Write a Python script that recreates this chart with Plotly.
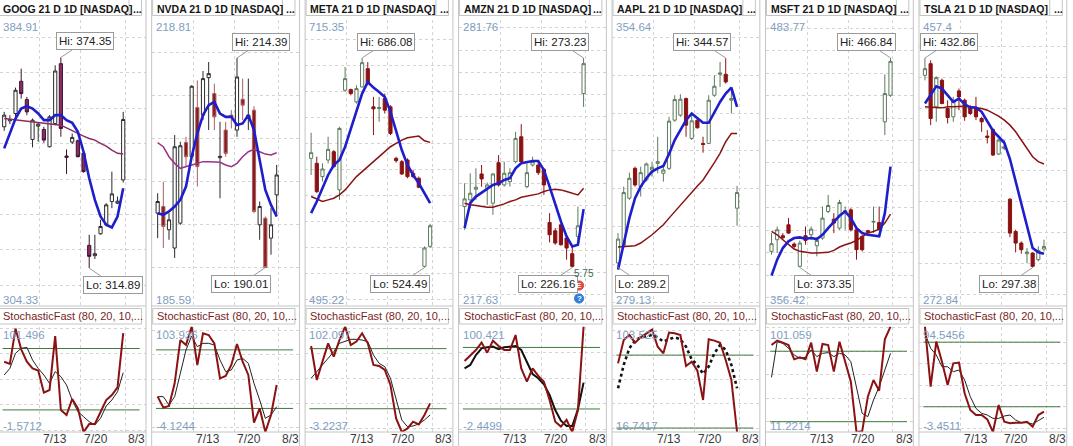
import plotly.graph_objects as go

# ---- data ----
TICKERS = ["GOOG", "NVDA", "META", "AMZN", "AAPL", "MSFT", "TSLA"]
DAYS = list(range(22))
DATE_TICKS = [6.3, 13.5, 21.4]
DATE_LABELS = ["7/13", "7/20", "8/3"]
STOCH_LEVELS = [80, 20]

GOOG_O = [354.77, 356.45, 358.52, 367.61, 362.45, 351.20, 354.95, 354.02, 349.14, 355.70, 372.58, 346.52, 350.45, 350.83, 347.27, 321.30, 318.39, 324.58, 327.11, 333.67, 333.20, 339.77]
GOOG_H = [358.98, 358.05, 365.83, 371.17, 363.20, 357.11, 355.89, 354.77, 358.05, 372.11, 374.35, 348.39, 352.89, 351.20, 347.73, 324.30, 324.30, 328.52, 333.20, 342.11, 335.08, 358.98]
GOOG_L = [353.64, 355.52, 356.64, 362.73, 358.05, 348.95, 350.55, 350.27, 348.95, 355.23, 351.95, 341.45, 349.89, 346.14, 341.83, 314.89, 317.45, 324.30, 326.64, 331.80, 333.02, 339.02]
GOOG_C = [358.05, 356.83, 365.08, 364.14, 358.98, 356.64, 355.52, 351.02, 357.58, 370.52, 354.30, 346.14, 351.77, 346.33, 342.11, 318.20, 318.95, 326.64, 332.73, 335.83, 333.77, 356.83]
GOOG_FAST = [348.67, 352.89, 357.11, 359.92, 360.58, 359.92, 358.52, 356.64, 356.64, 358.05, 358.05, 356.64, 355.89, 353.36, 347.73, 340.23, 334.14, 329.45, 327.11, 326.36, 329.45, 337.42]
GOOG_SLOW = [357.11, 356.92, 356.64, 356.45, 356.36, 356.17, 356.08, 355.89, 355.70, 355.52, 355.23, 354.48, 353.64, 352.89, 352.14, 351.48, 351.02, 350.08, 349.33, 348.20, 347.27, 347.08]
GOOG_K = [67.1, 64.9, 99.5, 79.2, 67.1, 60.6, 58.4, 36.9, 39.5, 92.2, 19.9, 15.0, 30.7, 21.6, -1.57, 6.2, 6.2, 18.3, 29.7, 34.6, 42.1, 95.0]
GOOG_D = [54.1, 60.6, 75.3, 80.2, 81.1, 68.8, 60.6, 54.1, 46.0, 57.4, 52.5, 44.3, 29.7, 18.3, 13.4, 8.5, 5.3, 11.8, 23.8, 29.7, 37.8, 56.4]

NVDA_O = [196.33, 197.11, 194.40, 192.28, 195.17, 204.57, 202.90, 208.62, 207.74, 212.10, 210.25, 202.79, 206.00, 207.74, 206.00, 209.59, 207.35, 208.32, 194.98, 195.75, 193.43, 198.46]
NVDA_H = [198.65, 200.00, 196.33, 205.42, 204.64, 205.22, 211.21, 211.79, 212.88, 213.92, 211.41, 206.96, 206.96, 208.32, 214.39, 211.99, 211.99, 208.78, 197.69, 195.95, 196.91, 201.94]
NVDA_L = [193.43, 192.28, 193.24, 191.12, 194.98, 201.75, 202.71, 199.43, 207.16, 206.00, 206.00, 198.07, 202.90, 206.19, 205.22, 207.16, 206.00, 196.33, 193.24, 190.01, 191.50, 195.95]
NVDA_C = [197.69, 194.79, 195.56, 204.06, 204.18, 202.90, 211.10, 201.75, 211.99, 212.57, 207.54, 202.94, 203.29, 207.47, 212.18, 208.90, 207.74, 196.53, 197.11, 190.01, 194.98, 200.78]
NVDA_FAST = [196.33, 196.14, 196.53, 197.11, 197.88, 199.43, 202.90, 205.61, 207.74, 208.90, 209.28, 207.93, 207.54, 207.54, 206.58, 206.77, 207.74, 206.00, 202.52, 199.04, 197.30, 195.95]
NVDA_SLOW = [204.53, 204.06, 202.90, 202.13, 201.55, 201.75, 201.94, 202.13, 202.33, 202.33, 202.33, 202.25, 201.94, 201.75, 202.13, 202.90, 203.48, 203.75, 203.48, 203.21, 203.10, 203.37]
NVDA_K = [32.1, 20.8, 22.5, 45.7, 90.1, 85.0, 103.9, 64.5, 96.9, 95.2, 86.7, 50.8, 53.2, 64.5, 86.0, 67.9, 54.3, 5.4, 20.1, -4.12, 13.3, 44.0]
NVDA_D = [32.1, 32.1, 23.5, 32.1, 56.0, 79.9, 94.2, 83.3, 86.7, 86.7, 85.0, 69.6, 57.7, 59.4, 69.6, 71.3, 66.2, 45.7, 28.7, 9.9, 13.3, 21.8]

META_O = [608.68, 604.84, 594.59, 607.40, 613.80, 584.35, 661.18, 661.69, 652.21, 663.74, 677.83, 648.37, 647.10, 654.78, 648.37, 608.68, 606.12, 607.40, 597.15, 593.31, 525.44, 540.81]
META_H = [628.40, 609.96, 604.84, 625.33, 615.08, 633.01, 679.11, 662.46, 665.02, 686.08, 682.95, 656.06, 656.06, 658.62, 649.65, 609.96, 607.40, 608.68, 599.71, 594.59, 540.81, 558.22]
META_L = [595.87, 581.79, 590.75, 604.84, 601.00, 576.66, 659.91, 657.34, 650.94, 663.23, 665.02, 626.61, 636.85, 643.25, 626.61, 605.35, 595.87, 593.31, 593.31, 585.63, 524.49, 539.53]
META_C = [613.03, 583.06, 600.48, 615.59, 602.27, 631.73, 670.15, 658.62, 662.46, 682.44, 666.30, 646.84, 647.86, 645.81, 627.89, 606.88, 596.64, 594.59, 594.59, 586.40, 539.53, 556.69]
META_FAST = [566.42, 575.37, 585.62, 595.87, 603.55, 607.40, 617.64, 631.73, 645.81, 658.62, 667.58, 663.23, 659.91, 656.06, 644.53, 629.17, 615.08, 603.55, 595.87, 589.47, 581.79, 574.11]
META_SLOW = [579.22, 577.17, 575.38, 576.66, 577.94, 580.51, 584.35, 589.47, 594.59, 598.43, 602.27, 606.12, 609.96, 613.80, 617.64, 620.21, 622.77, 624.55, 625.33, 625.84, 622.26, 620.98]
META_K = [82.6, 48.7, 67.0, 85.3, 72.0, 88.6, 102.0, 83.6, 87.0, 95.3, 85.3, 63.7, 62.7, 58.7, 43.7, 10.4, -3.2, 0.4, 7.1, 4.4, 13.8, 25.4]
META_D = [50.4, 57.0, 63.7, 70.3, 77.0, 85.3, 87.0, 89.3, 89.3, 88.6, 87.0, 73.6, 65.3, 62.0, 50.4, 28.7, 8.8, 2.1, 2.8, 4.8, 8.8, 13.8]

AMZN_O = [239.86, 241.36, 243.74, 247.18, 243.97, 240.61, 249.71, 244.71, 245.46, 249.94, 255.53, 244.34, 249.19, 249.19, 248.22, 236.28, 234.42, 235.76, 232.77, 229.27, 233.15, 265.23]
AMZN_H = [245.09, 247.33, 248.45, 249.19, 245.24, 247.33, 251.43, 249.94, 248.45, 256.65, 258.37, 249.57, 251.06, 249.94, 248.45, 238.37, 235.01, 235.99, 233.15, 230.91, 239.86, 273.23]
AMZN_L = [234.64, 239.49, 241.36, 244.34, 240.24, 238.00, 244.34, 244.34, 244.34, 249.57, 249.57, 243.97, 248.82, 246.95, 242.48, 231.81, 231.28, 231.06, 227.93, 226.16, 231.06, 262.25]
AMZN_C = [241.58, 242.85, 244.19, 246.06, 244.71, 247.18, 244.71, 247.33, 247.47, 255.16, 249.94, 247.47, 249.94, 247.47, 244.71, 233.52, 231.66, 231.28, 230.54, 226.43, 235.54, 271.95]
AMZN_FAST = [235.02, 240.61, 242.10, 243.00, 243.97, 244.71, 245.09, 245.83, 246.21, 248.45, 249.57, 249.79, 250.09, 250.09, 248.07, 244.34, 240.24, 236.51, 233.15, 230.91, 231.28, 239.27]
AMZN_SLOW = [240.61, 240.24, 240.09, 239.86, 239.72, 239.72, 240.01, 240.46, 240.98, 241.36, 241.95, 242.25, 242.48, 242.70, 243.22, 243.60, 243.74, 243.60, 243.22, 242.85, 242.48, 243.97]
AMZN_K = [66.8, 71.7, 77.5, 84.7, 74.9, 86.6, 81.4, 77.5, 77.5, 92.1, 59.6, 46.6, 59.6, 52.2, 46.6, 28.8, 7.6, 2.8, 9.3, -2.45, 19.0, 100.42]
AMZN_D = [59.6, 62.9, 72.6, 79.1, 80.1, 80.8, 78.2, 80.1, 80.8, 81.4, 77.5, 66.1, 54.1, 49.9, 44.0, 33.6, 19.0, 8.6, 3.4, 3.4, 19.7, 45.7]

AAPL_O = [290.37, 294.77, 307.51, 315.41, 310.58, 312.35, 314.97, 316.73, 314.10, 315.41, 328.15, 329.47, 333.86, 323.32, 328.15, 322.00, 322.00, 334.74, 340.28, 340.28, 333.42, 304.87]
AAPL_H = [298.28, 310.58, 314.27, 315.85, 315.85, 316.91, 317.17, 323.76, 316.29, 329.03, 334.74, 335.01, 334.13, 329.91, 328.59, 323.76, 334.74, 340.01, 343.53, 344.57, 336.76, 310.76]
AAPL_L = [289.20, 294.33, 307.07, 310.58, 307.95, 311.90, 313.22, 314.10, 311.90, 314.97, 327.71, 329.03, 323.76, 322.88, 325.96, 319.54, 321.83, 334.30, 336.94, 337.82, 329.91, 300.22]
AAPL_C = [296.70, 309.00, 312.78, 311.02, 314.27, 316.56, 315.68, 317.17, 314.97, 327.89, 333.60, 333.69, 326.83, 327.98, 326.13, 321.74, 333.42, 337.11, 340.63, 338.26, 333.86, 309.00]
AAPL_FAST = [288.62, 295.21, 302.24, 307.51, 310.58, 312.78, 314.54, 315.41, 316.03, 319.19, 322.88, 325.52, 328.15, 329.91, 328.59, 327.45, 327.45, 330.35, 332.98, 335.18, 336.76, 331.67]
AAPL_SLOW = [294.59, 294.77, 294.77, 294.94, 295.65, 296.70, 297.84, 299.16, 300.48, 302.24, 304.00, 305.75, 307.51, 309.26, 310.76, 312.34, 314.54, 316.91, 319.37, 322.44, 324.64, 324.64]
AAPL_K = [73.2, 92.4, 96.5, 90.2, 94.6, 97.9, 101.0, 86.9, 81.5, 98.5, 97.9, 96.5, 71.0, 74.6, 67.2, 43.1, 93.0, 91.9, 90.2, 76.0, 59.5, 16.74]
AAPL_D = [52.7, 71.9, 85.6, 91.9, 94.6, 95.7, 96.5, 94.6, 91.1, 93.0, 94.6, 93.0, 86.9, 76.5, 71.9, 64.5, 70.5, 81.5, 88.3, 84.2, 71.9, 52.7]

MSFT_O = [380.57, 385.76, 387.54, 392.43, 383.83, 373.90, 387.54, 387.98, 383.09, 386.50, 398.35, 394.94, 390.94, 398.06, 399.09, 390.20, 387.24, 389.76, 393.61, 393.46, 438.36, 450.21]
MSFT_H = [388.72, 391.68, 388.72, 395.39, 384.57, 385.46, 391.68, 391.68, 386.94, 400.57, 405.76, 397.61, 403.54, 400.57, 399.83, 390.94, 387.98, 390.20, 400.57, 400.57, 459.55, 466.84]
MSFT_L = [379.09, 379.83, 385.76, 388.43, 382.05, 373.35, 383.54, 385.76, 378.35, 385.76, 397.61, 388.72, 390.20, 390.20, 389.46, 376.87, 380.57, 388.43, 388.72, 389.91, 432.43, 449.47]
MSFT_C = [383.98, 390.20, 386.65, 388.72, 382.79, 384.28, 385.46, 390.50, 385.46, 395.39, 401.02, 393.17, 402.35, 398.65, 390.20, 381.31, 381.31, 389.02, 393.91, 390.20, 450.95, 465.33]
MSFT_FAST = [369.76, 376.87, 382.05, 385.02, 386.50, 386.79, 386.20, 386.50, 386.05, 387.98, 390.94, 393.91, 396.42, 398.35, 395.39, 390.94, 388.72, 387.98, 387.54, 387.24, 397.61, 418.35]
MSFT_SLOW = [389.46, 387.98, 385.76, 383.54, 381.61, 380.57, 380.13, 379.83, 379.83, 379.83, 380.13, 381.02, 382.50, 383.54, 384.28, 385.46, 386.94, 388.72, 389.46, 390.50, 393.17, 397.17]
MSFT_K = [85.3, 89.0, 87.3, 85.3, 73.1, 74.8, 73.1, 87.3, 62.6, 86.2, 85.3, 62.6, 88.1, 71.1, 54.1, 11.22, 11.8, 41.3, 55.5, 46.4, 90.1, 101.0]
MSFT_D = [57.8, 88.1, 86.7, 82.5, 76.8, 74.0, 74.8, 81.1, 75.4, 78.2, 78.8, 75.4, 78.2, 76.8, 71.1, 48.4, 27.1, 24.3, 38.5, 49.8, 64.0, 78.2]

TSLA_O = [421.65, 429.16, 401.25, 418.42, 400.17, 394.80, 411.55, 405.54, 400.82, 400.82, 393.73, 382.35, 386.64, 370.75, 374.41, 341.55, 320.72, 313.21, 306.32, 306.76, 302.47, 309.35]
TSLA_H = [432.86, 431.31, 421.00, 419.50, 405.54, 407.69, 413.06, 406.61, 402.32, 407.69, 394.80, 386.22, 387.29, 380.20, 379.77, 342.20, 321.80, 314.28, 309.98, 307.19, 311.06, 315.35]
TSLA_L = [418.42, 389.43, 391.59, 402.96, 390.51, 391.59, 399.10, 392.23, 395.89, 392.66, 385.14, 377.63, 369.47, 370.11, 373.33, 317.07, 307.19, 306.32, 300.32, 297.38, 301.40, 307.83]
TSLA_C = [425.94, 393.73, 420.14, 403.39, 394.37, 405.11, 407.69, 394.80, 396.95, 394.80, 391.58, 381.49, 370.11, 379.77, 375.48, 319.65, 313.21, 308.91, 307.40, 298.18, 308.48, 311.06]
TSLA_FAST = [403.39, 408.76, 414.56, 413.06, 408.76, 404.47, 406.61, 402.96, 400.82, 400.82, 398.03, 391.59, 385.79, 381.92, 378.06, 367.53, 353.36, 338.97, 324.80, 310.00, 307.19, 306.32]
TSLA_SLOW = [401.25, 400.82, 400.82, 400.60, 401.25, 401.25, 401.68, 401.68, 401.25, 400.82, 400.17, 399.10, 397.38, 395.23, 392.66, 389.43, 385.14, 379.77, 374.41, 369.04, 365.82, 364.31]
TSLA_K = [94.5, 38.7, 80.5, 61.9, 40.2, 60.3, 61.0, 32.5, 17.0, 12.3, 12.3, 8.3, -3.45, 21.6, 6.1, 4.6, 5.2, 5.2, 6.1, 1.5, 12.3, 15.4]
TSLA_D = [88.2, 74.3, 68.1, 57.2, 57.2, 52.6, 54.1, 44.9, 29.4, 18.5, 13.9, 12.3, 9.2, 9.2, 11.4, 12.3, 7.7, 5.2, 5.2, 4.0, 7.1, 10.2]

# axis ranges shown in the corners of each pane
PRICE_TOP = [384.91, 218.81, 715.35, 281.76, 354.64, 483.77, 457.4]
PRICE_BOT = [304.33, 185.59, 495.22, 217.63, 279.13, 356.42, 272.84]
PRICE_STEP = [10, 5, 20, 5, 10, 10, 20]
STOCH_TOP = [101.496, 103.936, 102.097, 100.421, 103.525, 101.059, 94.5456]
STOCH_BOT = [-1.5712, -4.1244, -3.2237, -2.4499, 16.7417, 11.2214, -3.4511]
STOCH_STEP = [25, 25, 25, 25, 20, 20, 20]

SERIES = {
    "GOOG": (GOOG_O, GOOG_H, GOOG_L, GOOG_C, GOOG_FAST, GOOG_SLOW, GOOG_K, GOOG_D),
    "NVDA": (NVDA_O, NVDA_H, NVDA_L, NVDA_C, NVDA_FAST, NVDA_SLOW, NVDA_K, NVDA_D),
    "META": (META_O, META_H, META_L, META_C, META_FAST, META_SLOW, META_K, META_D),
    "AMZN": (AMZN_O, AMZN_H, AMZN_L, AMZN_C, AMZN_FAST, AMZN_SLOW, AMZN_K, AMZN_D),
    "AAPL": (AAPL_O, AAPL_H, AAPL_L, AAPL_C, AAPL_FAST, AAPL_SLOW, AAPL_K, AAPL_D),
    "MSFT": (MSFT_O, MSFT_H, MSFT_L, MSFT_C, MSFT_FAST, MSFT_SLOW, MSFT_K, MSFT_D),
    "TSLA": (TSLA_O, TSLA_H, TSLA_L, TSLA_C, TSLA_FAST, TSLA_SLOW, TSLA_K, TSLA_D),
}

# ---- styling ----
FONT = "Liberation Sans, Arial, sans-serif"
BORDER = "#C4C4C4"
GRID = "#D4D4D4"
CORNER = "#7F9EC0"
BLUE = "#1E1ECC"
MAROON = "#8B1212"
GREEN = "#3E7A3E"
CANDLE_STYLE = {
    "GOOG": dict(up="#2A2A2A", dn_line="#3C1230", dn_fill="#8E2A66", slow="#8E2A66"),
    "NVDA": dict(up="#2A2A2A", dn_line="#A86060", dn_fill="#8B1A1A", slow="#9B3389"),
}
DEFAULT_STYLE = dict(up="#5C7A5C", dn_line=MAROON, dn_fill=MAROON, slow=MAROON)
D_STYLE = {"AAPL": dict(color="#111111", width=2.6, dash="dot"),
           "AMZN": dict(color="#111111", width=2.0)}
DEFAULT_D = dict(color="#222222", width=1)

W, H = 1073, 446
PANEL_X0, PANEL_STEP, PANEL_W = -1.8, 153.46, 147.8
BAR0, BAR_STEP = 6.0, 5.667
PRICE_Y = (20.0, 305.5)
STOCH_Y = (326.5, 432.0)


def px(x):
    return x / W


def py(y):
    return 1 - y / H


def ax_names(n):
    s = "" if n == 1 else str(n)
    return "x" + s, "y" + s, "xaxis" + s, "yaxis" + s


fig = go.Figure()
layout_axes = {}
shapes = []
annotations = []


def label(text, x, y, color, size=11, anchor="left", bold=False):
    annotations.append(dict(text=f"<b>{text}</b>" if bold else text, x=px(x), y=py(y),
                            xref="paper", yref="paper", xanchor=anchor, yanchor="middle",
                            showarrow=False, font=dict(family=FONT, size=size, color=color)))


for i, t in enumerate(TICKERS):
    o, h, l, c, fast, slow, k, d = SERIES[t]
    st = CANDLE_STYLE.get(t, DEFAULT_STYLE)
    left = PANEL_X0 + i * PANEL_STEP
    right = left + PANEL_W
    x0, x1 = max(left, 0), min(right, W)
    xr = [(x0 - left - BAR0) / BAR_STEP, (x1 - left - BAR0) / BAR_STEP]

    xp, yp, xpk, ypk = ax_names(2 * i + 1)
    xs, ys, xsk, ysk = ax_names(2 * i + 2)

    fig.add_trace(go.Candlestick(
        x=DAYS, open=o, high=h, low=l, close=c, xaxis=xp, yaxis=yp,
        increasing=dict(line=dict(color=st["up"], width=1), fillcolor="white"),
        decreasing=dict(line=dict(color=st["dn_line"], width=1), fillcolor=st["dn_fill"]),
        whiskerwidth=0, hoverinfo="skip"))
    fig.add_trace(go.Scatter(x=DAYS, y=slow, mode="lines", xaxis=xp, yaxis=yp,
                             line=dict(color=st["slow"], width=1.5)))
    fig.add_trace(go.Scatter(x=DAYS, y=fast, mode="lines", xaxis=xp, yaxis=yp,
                             line=dict(color=BLUE, width=2.6)))

    for lev in STOCH_LEVELS:
        fig.add_trace(go.Scatter(x=[-0.3, 23.9], y=[lev, lev], mode="lines", xaxis=xs, yaxis=ys,
                                 line=dict(color=GREEN, width=1)))
    fig.add_trace(go.Scatter(x=DAYS, y=d, mode="lines", xaxis=xs, yaxis=ys,
                             line=D_STYLE.get(t, DEFAULT_D)))
    fig.add_trace(go.Scatter(x=DAYS, y=k, mode="lines", xaxis=xs, yaxis=ys,
                             line=dict(color=MAROON, width=2)))

    common_x = dict(range=xr, domain=[px(x0), px(x1)], tickvals=DATE_TICKS, ticks="",
                    showticklabels=False, showgrid=True, gridcolor=GRID, griddash="dot",
                    zeroline=False, showline=False, fixedrange=True)
    layout_axes[xpk] = dict(common_x, anchor=yp, rangeslider=dict(visible=False))
    layout_axes[xsk] = dict(common_x, anchor=ys)
    layout_axes[ypk] = dict(range=[PRICE_BOT[i], PRICE_TOP[i]], anchor=xp,
                            domain=[py(PRICE_Y[1]), py(PRICE_Y[0])],
                            tick0=0, dtick=PRICE_STEP[i], showticklabels=False, ticks="",
                            showgrid=True, gridcolor=GRID, griddash="dot", zeroline=False,
                            fixedrange=True)
    layout_axes[ysk] = dict(range=[STOCH_BOT[i], STOCH_TOP[i]], anchor=xs,
                            domain=[py(STOCH_Y[1]), py(STOCH_Y[0])],
                            tick0=0, dtick=STOCH_STEP[i], showticklabels=False, ticks="",
                            showgrid=True, gridcolor=GRID, griddash="dot", zeroline=False,
                            fixedrange=True)

    # date labels sit just right of each weekly grid line
    for tv, tl in zip(DATE_TICKS, DATE_LABELS):
        annotations.append(dict(text=tl, x=tv, y=py(439), xref=xs, yref="paper",
                                xanchor="left", yanchor="middle", xshift=1, showarrow=False,
                                font=dict(family=FONT, size=12, color="#3A3A3A")))

    # pane frames
    line = dict(color=BORDER, width=1)
    shapes += [
        dict(type="rect", xref="paper", yref="paper", x0=px(left), x1=px(right),
             y0=py(-2), y1=py(450), line=line),
        dict(type="rect", xref="paper", yref="paper", x0=px(left + 1), x1=px(right - 4.5),
             y0=py(-1), y1=py(15.5), line=line),
        dict(type="line", xref="paper", yref="paper", x0=px(right - 17), x1=px(right - 17),
             y0=py(0), y1=py(15.5), line=line),
        dict(type="line", xref="paper", yref="paper", x0=px(left), x1=px(right),
             y0=py(306), y1=py(306), line=line),
        dict(type="rect", xref="paper", yref="paper", x0=px(left + 1), x1=px(right - 4.5),
             y0=py(308.5), y1=py(324), line=line),
        dict(type="line", xref="paper", yref="paper", x0=px(left), x1=px(right),
             y0=py(432), y1=py(432), line=line),
    ]

    label(f"{t} 21 D 1D [NASDAQ]", left + 3, 8.5, "#151515", 10.5, bold=True)
    label("...", right - 15, 8.5, "#151515", 10.5, bold=True)
    label(f"{PRICE_TOP[i]:g}", left + 2.3, 27.3, CORNER, 11.5)
    label(f"{PRICE_BOT[i]:g}", left + 2.3, 299.5, CORNER, 11.5)
    label("StochasticFast (80, 20, 10,...", left + 3, 316.3, "#7A1E1E", 11)
    label(f"{STOCH_TOP[i]:g}", left + 2.3, 335, CORNER, 11.5)
    label(f"{STOCH_BOT[i]:g}", left + 2.3, 425.5, CORNER, 11.5)

    hi, lo = max(h), min(l)
    for val, idx, ay, tag in ((hi, h.index(hi), -16, "Hi"), (lo, l.index(lo), 16.5, "Lo")):
        ax = 24 if BAR0 + idx * BAR_STEP + 52 < PANEL_W else -24
        annotations.append(dict(
            text=f"{tag}: {val:g}", x=idx, y=val, xref=xp, yref=yp, ax=ax, ay=ay,
            showarrow=True, arrowhead=0, arrowwidth=1, arrowcolor="#9A9A9A", standoff=0,
            bordercolor="#9A9A9A", borderwidth=1, borderpad=2, bgcolor="white",
            font=dict(family=FONT, size=11.5, color="#222222")))

# AMZN event markers near the last bars
amzn_left = PANEL_X0 + 3 * PANEL_STEP
ex = amzn_left + 120.5
annotations.append(dict(text="5.75", x=px(ex + 5), y=py(273), xref="paper", yref="paper",
                        xanchor="center", yanchor="middle", showarrow=False,
                        font=dict(family=FONT, size=10, color="#3E6A4E")))
for cy, col, glyph in ((285.5, "#E04848", "E"), (298.5, "#2F7ED8", "?")):
    shapes.append(dict(type="circle", xref="paper", yref="paper", x0=px(ex - 4.6), x1=px(ex + 4.6),
                       y0=py(cy + 4.6), y1=py(cy - 4.6), fillcolor=col, line=dict(color=col, width=1)))
    annotations.append(dict(text=f"<b>{glyph}</b>", x=px(ex), y=py(cy), xref="paper", yref="paper",
                            xanchor="center", yanchor="middle", showarrow=False,
                            font=dict(family=FONT, size=8, color="white")))

fig.update_layout(
    width=W, height=H, margin=dict(l=0, r=0, t=0, b=0),
    paper_bgcolor="white", plot_bgcolor="white", showlegend=False, hovermode=False,
    boxgap=0.2, shapes=shapes, annotations=annotations, **layout_axes)

# drop the page's default body margin so the chart fills the window
fig.write_html("out.html", config={"displayModeBar": False},
               post_script="document.body.style.margin='0';")
